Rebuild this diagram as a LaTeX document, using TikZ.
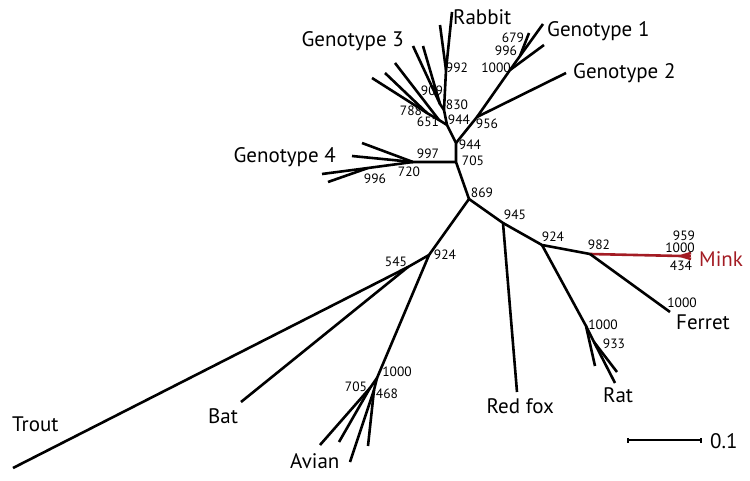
\documentclass[tikz,border=0pt]{standalone}
\usepackage{fontspec}
\setmainfont{PT Sans}
\definecolor{minkred}{RGB}{163,28,36}
\begin{document}
\begin{tikzpicture}[x=1pt,y=-1pt,
  br/.style={line width=2.6pt,line join=round},
  bs/.style={font=\fontsize{13.5}{13.5}\selectfont,inner sep=0pt},
  lab/.style={font=\fontsize{21}{21}\selectfont,inner sep=0pt}]
\useasboundingbox (0,0) rectangle (750,481);
% internal nodes
\coordinate (N869) at (469,199);
\coordinate (N705) at (456,162);
\coordinate (N944) at (456,143);
\coordinate (N944b) at (447,125);
\coordinate (N956) at (477,117);
\coordinate (G2tip) at (566,73);
\coordinate (N1000) at (510,70);
\coordinate (G1tA) at (544,45);
\coordinate (N996) at (520,56);
\coordinate (G1tB) at (543,24);
\coordinate (G1tC) at (529,33);
\coordinate (N830) at (444,110);
\coordinate (N992) at (446,70);
\coordinate (Rt1) at (452,12);
\coordinate (Rt2) at (440,25);
\coordinate (N909) at (440,104);
\coordinate (G3t4) at (413,46);
\coordinate (G3t5) at (423,46);
\coordinate (N651) at (439,120);
\coordinate (G3t3) at (395,63);
\coordinate (N788) at (427,113);
\coordinate (G3t1) at (372,78);
\coordinate (G3t2) at (385,73);
\coordinate (N997) at (413,162);
\coordinate (G4t1) at (362,143);
\coordinate (G4t2) at (352,156);
\coordinate (N996b) at (368,168);
\coordinate (G4t3) at (322,174);
\coordinate (G4t4) at (328,182);
\coordinate (N945) at (503,223);
\coordinate (Foxtip) at (517,392);
\coordinate (N924b) at (542,245);
\coordinate (N982) at (590,254);
\coordinate (Mnode) at (681,256);
\coordinate (Mt1) at (691,253);
\coordinate (Mt2) at (691,256);
\coordinate (Mt3) at (691,259);
\coordinate (Ferrettip) at (670,312);
\coordinate (N1000r) at (586,326);
\coordinate (Rat1) at (595,366);
\coordinate (N933) at (594,342);
\coordinate (Rat2) at (617,372);
\coordinate (Rat3) at (615,383);
\coordinate (N924a) at (429,255);
\coordinate (N545) at (408,267);
\coordinate (Trouttip) at (13,468);
\coordinate (Battip) at (241,402);
\coordinate (N1000a) at (377,378);
\coordinate (N705a) at (370,388);
\coordinate (Av1) at (320,445);
\coordinate (Av2) at (339,442);
\coordinate (N468) at (374,390);
\coordinate (Av3) at (350,462);
\coordinate (Av4) at (368,446);
\coordinate (SB1) at (628,440);
\coordinate (SB2) at (701,440);
% branches
\draw[br] (N869) -- (N705) -- (N944) -- (N944b);
\draw[br] (N944) -- (N956) -- (G2tip);
\draw[br] (N956) -- (N1000) -- (G1tA);
\draw[br] (N1000) -- (N996) -- (G1tB);
\draw[br] (N996) -- (G1tC);
\draw[br] (N944b) -- (N830) -- (N992) -- (Rt1);
\draw[br] (N992) -- (Rt2);
\draw[br] (N830) -- (N909) -- (G3t4);
\draw[br] (N909) -- (G3t5);
\draw[br] (N944b) -- (N651) -- (G3t3);
\draw[br] (N651) -- (N788) -- (G3t1);
\draw[br] (N788) -- (G3t2);
\draw[br] (N705) -- (N997) -- (G4t1);
\draw[br] (N997) -- (G4t2);
\draw[br] (N997) -- (N996b) -- (G4t3);
\draw[br] (N996b) -- (G4t4);
\draw[br] (N869) -- (N945) -- (Foxtip);
\draw[br] (N945) -- (N924b) -- (N982) ;
\draw[br,minkred] (N982) -- (Mnode) -- (Mt1);
\draw[br,minkred] (Mnode) -- (Mt2);
\draw[br,minkred] (Mnode) -- (Mt3);
\draw[br] (N982) -- (Ferrettip);
\draw[br] (N924b) -- (N1000r) -- (Rat1);
\draw[br] (N1000r) -- (N933) -- (Rat2);
\draw[br] (N933) -- (Rat3);
\draw[br] (N869) -- (N924a) -- (N545) -- (Trouttip);
\draw[br] (N545) -- (Battip);
\draw[br] (N924a) -- (N1000a) -- (N705a) -- (Av1);
\draw[br] (N705a) -- (Av2);
\draw[br] (N1000a) -- (N468) -- (Av3);
\draw[br] (N468) -- (Av4);
% scale bar
\draw[line width=2.2pt] (SB1) -- (SB2);
\draw[line width=1.2pt] ([yshift=-2.5]SB1) -- ([yshift=2.5]SB1);
\draw[line width=1.2pt] ([yshift=-2.5]SB2) -- ([yshift=2.5]SB2);
\node[lab,anchor=west] (sbl) at (710,441) {0.1};
% taxon labels
\node[lab,anchor=base west] (lRabbit) at (453,25) {Rabbit};
\node[lab,anchor=base west] (lG1) at (547,37) {Genotype 1};
\node[lab,anchor=base west] (lG2) at (573,79) {Genotype 2};
\node[lab,anchor=base east] (lG3) at (404,47) {Genotype 3};
\node[lab,anchor=base east] (lG4) at (336,163) {Genotype 4};
\node[lab,anchor=base west,text=minkred] (lMink) at (699,266) {Mink};
\node[lab,anchor=base west] (lFerret) at (676,330) {Ferret};
\node[lab,anchor=base west] (lRat) at (603,402) {Rat};
\node[lab,anchor=base east] (lFox) at (554,413) {Red fox};
\node[lab,anchor=base west] (lAvian) at (290,468) {Avian};
\node[lab,anchor=base west] (lBat) at (208,423) {Bat};
\node[lab,anchor=base west] (lTrout) at (12,431) {Trout};
% bootstrap values
\node[bs] (b679) at (513,38) {679};
\node[bs] (b996a) at (506,51) {996};
\node[bs] (b1000a) at (496,68) {1000};
\node[bs] (b992) at (457,68) {992};
\node[bs] (b909) at (432,91) {909};
\node[bs] (b830) at (457,105) {830};
\node[bs] (b788) at (411,111) {788};
\node[bs] (b651) at (428,122) {651};
\node[bs] (b944a) at (459,120) {944};
\node[bs] (b956) at (487,124) {956};
\node[bs] (b944b) at (470,145) {944};
\node[bs] (b705a) at (473,161) {705};
\node[bs] (b997) at (428,154) {997};
\node[bs] (b720) at (409,172) {720};
\node[bs] (b996b) at (375,179) {996};
\node[bs] (b869) at (482,193) {869};
\node[bs] (b945) at (515,215) {945};
\node[bs] (b924r) at (553,237) {924};
\node[bs] (b982) at (599,245) {982};
\node[bs] (b924l) at (445,255) {924};
\node[bs] (b545) at (396,262) {545};
\node[bs] (b959) at (684,236) {959};
\node[bs] (b1000m) at (680,248) {1000};
\node[bs] (b434) at (681,266) {434};
\node[bs] (b1000f) at (682,303) {1000};
\node[bs] (b1000r) at (603,325) {1000};
\node[bs] (b933) at (614,344) {933};
\node[bs] (b1000v) at (397,372) {1000};
\node[bs] (b705v) at (356,387) {705};
\node[bs] (b468) at (387,394) {468};
\end{tikzpicture}
\end{document}
